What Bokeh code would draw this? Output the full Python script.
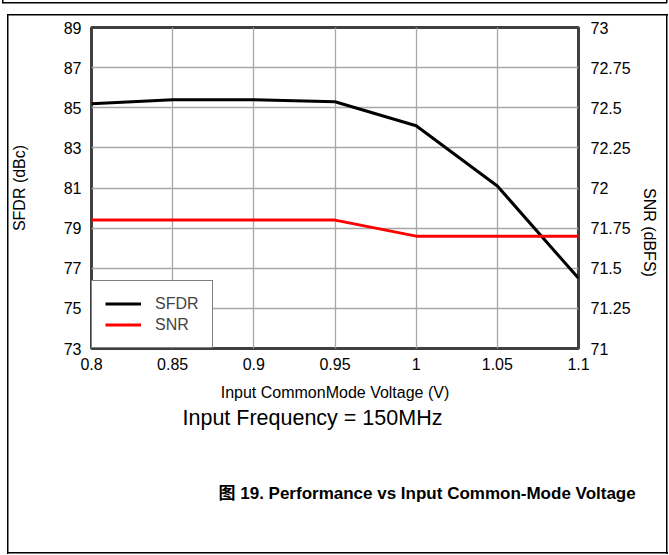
import math
from bokeh.plotting import figure
from bokeh.models import (Range1d, LinearAxis, FixedTicker, Legend, LegendItem, Title)
from bokeh.embed import file_html
from bokeh.resources import INLINE

# ---- data ----
voltage = [0.8, 0.85, 0.9, 0.95, 1.0, 1.05, 1.1]
sfdr = [85.2, 85.4, 85.4, 85.3, 84.1, 81.1, 76.5]
snr = [71.8, 71.8, 71.8, 71.8, 71.7, 71.7, 71.7]

x_ticks = [0.8, 0.85, 0.9, 0.95, 1.0, 1.05, 1.1]
x_tick_labels = ["0.8", "0.85", "0.9", "0.95", "1", "1.05", "1.1"]
left_ticks = [73, 75, 77, 79, 81, 83, 85, 87, 89]
right_ticks = [71, 71.25, 71.5, 71.75, 72, 72.25, 72.5, 72.75, 73]
right_tick_labels = ["71", "71.25", "71.5", "71.75", "72", "72.25", "72.5", "72.75", "73"]

FONT = "Liberation Sans"
fs = "16px"

p = figure(width=669, height=555, output_backend="svg", toolbar_location=None,
           x_range=Range1d(0.8, 1.1), y_range=Range1d(73, 89),
           min_border_left=91, min_border_right=91, min_border_top=27,
           min_border_bottom=198, x_axis_location=None, y_axis_location=None)
p.extra_y_ranges = {"snr": Range1d(71, 73)}

# page frame lines drawn as CSS backgrounds behind a transparent border area
g = "linear-gradient(#000,#000)"
p.styles = {
    "background-color": "white",
    "background-image": ", ".join([g] * 7),
    "background-repeat": "no-repeat",
    "background-position": "7px 14px, 666px 14px, 7px 14px, 7px 552px, 2px 2px, 2px 0px, 666px 0px",
    "background-size": "1.5px 540px, 1.5px 540px, 661px 1.5px, 661px 1.5px, 665px 1.5px, 1.5px 3px, 1.5px 3px",
}
p.border_fill_color = None
p.outline_line_color = "#404040"
p.outline_line_width = 3
p.background_fill_color = "white"

def style_axis(ax, standoff, label_standoff):
    ax.major_tick_out = 0
    ax.major_tick_in = 0
    ax.minor_tick_out = 0
    ax.minor_tick_in = 0
    ax.axis_line_color = None
    ax.major_label_text_font = FONT
    ax.major_label_text_font_size = fs
    ax.major_label_text_color = "black"
    ax.major_label_standoff = standoff
    ax.axis_label_text_font = FONT
    ax.axis_label_text_font_size = fs
    ax.axis_label_text_font_style = "normal"
    ax.axis_label_text_color = "black"
    ax.axis_label_standoff = label_standoff

xaxis = LinearAxis(ticker=FixedTicker(ticks=x_ticks), axis_label="Input CommonMode Voltage (V)")
xaxis.major_label_overrides = {t: l for t, l in zip(x_ticks, x_tick_labels)}
style_axis(xaxis, 9, 11)
p.add_layout(xaxis, "below")

laxis = LinearAxis(ticker=FixedTicker(ticks=left_ticks), axis_label="SFDR (dBc)")
style_axis(laxis, 10, 33)
p.add_layout(laxis, "left")

raxis = LinearAxis(y_range_name="snr", ticker=FixedTicker(ticks=right_ticks), axis_label="SNR (dBFS)")
raxis.major_label_overrides = {t: l for t, l in zip(right_ticks, right_tick_labels)}
style_axis(raxis, 12, 16)
raxis.axis_label_orientation = -math.pi / 2
p.add_layout(raxis, "right")

p.xgrid.ticker = FixedTicker(ticks=x_ticks)
p.ygrid.ticker = FixedTicker(ticks=left_ticks)
p.grid.grid_line_color = "#a6a6a6"
p.grid.grid_line_width = 1.3

r1 = p.line(voltage, sfdr, line_color="black", line_width=3)
r2 = p.line(voltage, snr, line_color="#ff0000", line_width=3, y_range_name="snr")

legend = Legend(items=[LegendItem(label="SFDR", renderers=[r1]),
                       LegendItem(label="SNR", renderers=[r2])],
                location=(0, 0), margin=0, padding=13, spacing=2,
                glyph_width=36, glyph_height=19, label_height=19,
                label_standoff=14, label_text_font=FONT, label_text_font_size=fs,
                border_line_color="black", border_line_width=1.5,
                background_fill_alpha=1.0)
p.add_layout(legend, "center")

p.add_layout(Title(text="Input Frequency = 150MHz", text_font=FONT,
                   text_font_size="21.5px", text_font_style="normal", text_color="black",
                   align="left", offset=91, standoff=0), "below")
p.add_layout(Title(text="图 19. Performance vs Input Common-Mode Voltage",
                   text_font="Liberation Sans, Noto Sans CJK SC",
                   text_font_size="17px", text_font_style="bold", text_color="black",
                   align="left", offset=127, standoff=105), "below")

open("out.html", "w").write(file_html(p, INLINE))
